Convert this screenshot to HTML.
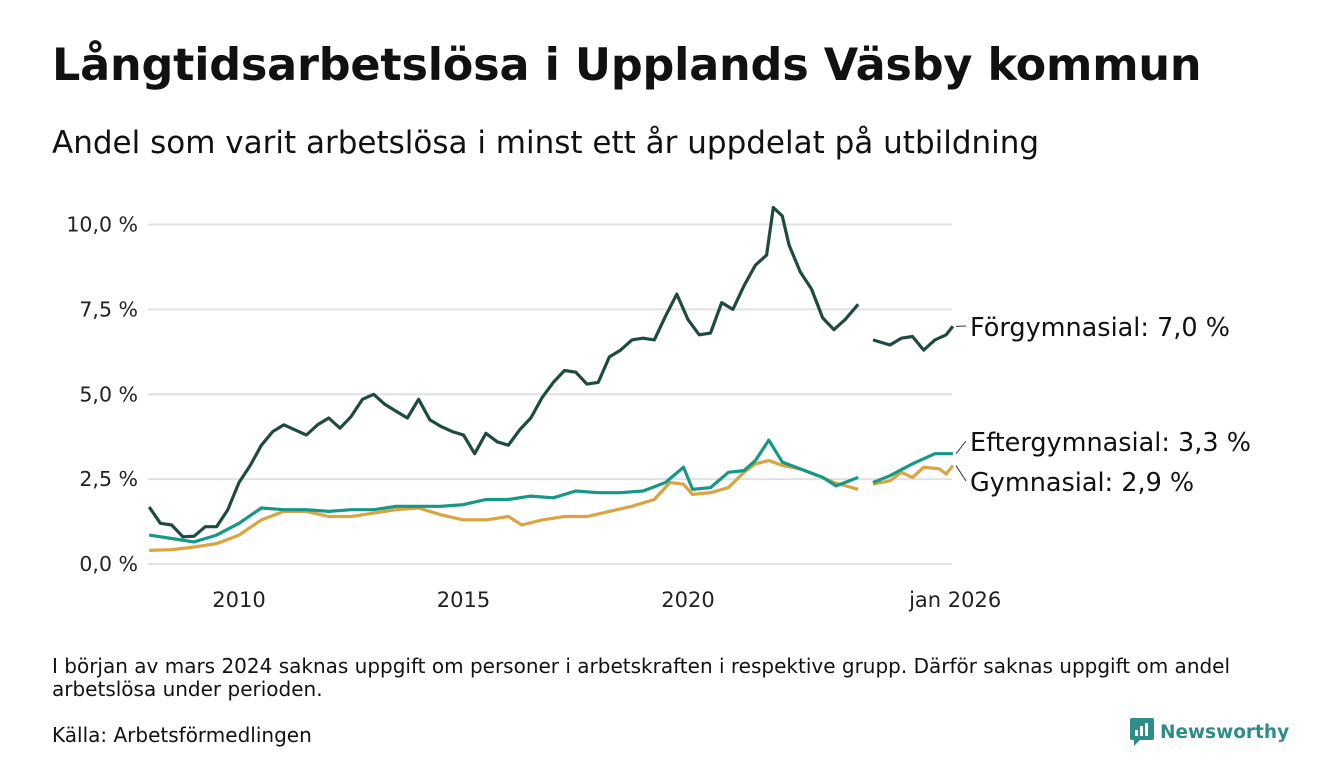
<!DOCTYPE html>
<html><head><meta charset="utf-8">
<style>
body{margin:0;width:1340px;height:780px;background:#fff;font-family:"DejaVu Sans","Liberation Sans",sans-serif;color:#111;overflow:hidden;position:relative}
.t{position:absolute;margin:0;white-space:nowrap}
</style></head><body>
<h1 class="t" style="left:52px;top:40px;font-size:44.5px;font-weight:bold;letter-spacing:-0.2px">Långtidsarbetslösa i Upplands Väsby kommun</h1>
<div class="t" style="left:52px;top:125px;font-size:31px">Andel som varit arbetslösa i minst ett år uppdelat på utbildning</div>
<svg id="chart" width="1340" height="640" style="position:absolute;left:0;top:0"></svg>
<div class="t" style="left:52px;top:655px;font-size:20px;line-height:23px;width:1230px;white-space:normal">I början av mars 2024 saknas uppgift om personer i arbetskraften i respektive grupp. Därför saknas uppgift om andel arbetslösa under perioden.</div>
<div class="t" style="left:52px;top:723px;font-size:20px">Källa: Arbetsförmedlingen</div>
<div class="t" style="left:1130px;top:718px;font-size:18.5px;font-weight:bold;color:#2f8d87;display:flex;align-items:center;gap:6px">
<svg width="24" height="28" viewBox="0 0 24 28"><rect x="0" y="0" width="24" height="22" rx="2" fill="#2f8d87"/><polygon points="4,22 10,22 4,28" fill="#2f8d87"/><rect x="5" y="12" width="3" height="6" fill="#fff"/><rect x="10" y="8" width="3" height="10" fill="#fff"/><rect x="15" y="5" width="3" height="13" fill="#fff"/></svg>Newsworthy</div>
<script>
const yTicks=[0,2.5,5,7.5,10];
const yTickLabels=["0,0 %","2,5 %","5,0 %","7,5 %","10,0 %"];
const xTicks=[2010,2015,2020,2025.95];
const xTickLabels=["2010","2015","2020","jan 2026"];
const forDates=[2008,2008.25,2008.5,2008.75,2009,2009.25,2009.5,2009.75,2010,2010.25,2010.5,2010.75,2011,2011.25,2011.5,2011.75,2012,2012.25,2012.5,2012.75,2013,2013.25,2013.5,2013.75,2014,2014.25,2014.5,2014.75,2015,2015.25,2015.5,2015.75,2016,2016.25,2016.5,2016.75,2017,2017.25,2017.5,2017.75,2018,2018.25,2018.5,2018.75,2019,2019.25,2019.5,2019.75,2020,2020.25,2020.5,2020.75,2021,2021.25,2021.5,2021.75,2021.9,2022.1,2022.25,2022.5,2022.75,2023,2023.25,2023.5,2023.79,2023.95,2024.12,2024.25,2024.5,2024.75,2025,2025.25,2025.5,2025.75,2025.9];
const forValues=[1.68,1.2,1.15,0.8,0.82,1.1,1.1,1.6,2.4,2.9,3.5,3.9,4.1,3.95,3.8,4.1,4.3,4.0,4.35,4.85,5.0,4.7,4.5,4.3,4.85,4.25,4.05,3.9,3.8,3.25,3.85,3.6,3.5,3.95,4.3,4.9,5.35,5.7,5.65,5.3,5.35,6.1,6.3,6.6,6.65,6.6,7.3,7.95,7.2,6.75,6.8,7.7,7.5,8.2,8.8,9.1,10.5,10.25,9.4,8.6,8.1,7.25,6.9,7.2,7.65,null,6.6,6.55,6.45,6.65,6.7,6.3,6.6,6.75,7.0];
const eftDates=[2008,2008.5,2009,2009.5,2010,2010.5,2011,2011.5,2012,2012.5,2013,2013.5,2014,2014.5,2015,2015.5,2016,2016.5,2017,2017.5,2018,2018.5,2019,2019.5,2019.9,2020.1,2020.5,2020.9,2021.25,2021.5,2021.8,2022.1,2022.5,2023,2023.3,2023.79,2023.95,2024.12,2024.5,2025,2025.5,2025.9];
const eftValues=[0.85,0.75,0.65,0.85,1.2,1.65,1.6,1.6,1.55,1.6,1.6,1.7,1.7,1.7,1.75,1.9,1.9,2.0,1.95,2.15,2.1,2.1,2.15,2.4,2.85,2.2,2.25,2.7,2.75,3.05,3.65,3.0,2.8,2.55,2.3,2.55,null,2.4,2.6,2.95,3.25,3.25];
const gymDates=[2008,2008.5,2009,2009.5,2010,2010.5,2011,2011.5,2012,2012.5,2013,2013.5,2014,2014.5,2015,2015.5,2016,2016.3,2016.75,2017.25,2017.75,2018.25,2018.75,2019.25,2019.6,2019.9,2020.1,2020.5,2020.9,2021.25,2021.5,2021.8,2022.1,2022.5,2022.9,2023.25,2023.79,2023.95,2024.12,2024.5,2024.75,2025,2025.25,2025.6,2025.75,2025.9];
const gymValues=[0.4,0.42,0.5,0.6,0.85,1.3,1.55,1.55,1.4,1.4,1.5,1.6,1.65,1.45,1.3,1.3,1.4,1.15,1.3,1.4,1.4,1.55,1.7,1.9,2.4,2.35,2.05,2.1,2.25,2.7,2.95,3.05,2.9,2.8,2.6,2.4,2.2,null,2.35,2.45,2.7,2.55,2.85,2.8,2.65,2.9];
const NS="http://www.w3.org/2000/svg";
const svg=document.getElementById('chart');
const X=v=>239+(v-2010)*44.9;
const Y=v=>564-v*33.95;
const FONT='DejaVu Sans, Liberation Sans, sans-serif';
function mk(t,a){const e=document.createElementNS(NS,t);for(const k in a)e.setAttribute(k,a[k]);svg.appendChild(e);return e;}
yTicks.forEach((v,i)=>{
 const g=mk('line',{x1:148,x2:952,y1:Y(v),y2:Y(v),stroke:'#e0e0e6','stroke-width':2});
 
 
 const t=mk('text',{x:138,y:Y(v)+7,'text-anchor':'end','font-size':20.5,fill:'#222','font-family':FONT});
 t.textContent=yTickLabels[i];
 
 
});
xTicks.forEach((v,i)=>{
 const t=mk('text',{x:X(v),y:607,'text-anchor':'middle','font-size':21,fill:'#222','font-family':FONT});
 t.textContent=xTickLabels[i];
 
 
});
function line(d,v,color,name){
 let p='',pen=false;
 d.forEach((x,i)=>{if(v[i]==null){pen=false;return;}p+=(pen?'L':'M')+X(x).toFixed(1)+','+Y(v[i]).toFixed(1);pen=true;});
 const e=mk('path',{d:p,fill:'none',stroke:color,'stroke-width':3.2,'stroke-linejoin':'round'});
 
 
}
line(gymDates,gymValues,'#d9a441','line-gymnasial');
line(eftDates,eftValues,'#169886','line-eftergymnasial');
line(forDates,forValues,'#1f4a42','line-forgymnasial');
function lab(txt,y,ly,name){
 const l=mk('line',{x1:956,y1:Y(ly),x2:966,y2:y-8,stroke:'#333','stroke-width':1});
 
 
 const t=mk('text',{x:970,y:y+2,'font-size':25.5,fill:'#111','font-family':FONT});
 t.textContent=txt;
 
 
}
lab('Förgymnasial: 7,0 %',334,forValues[forValues.length-1],'label-forgymnasial');
lab('Eftergymnasial: 3,3 %',449,eftValues[eftValues.length-1],'label-eftergymnasial');
lab('Gymnasial: 2,9 %',489,gymValues[gymValues.length-1],'label-gymnasial');
</script>
</body></html>
